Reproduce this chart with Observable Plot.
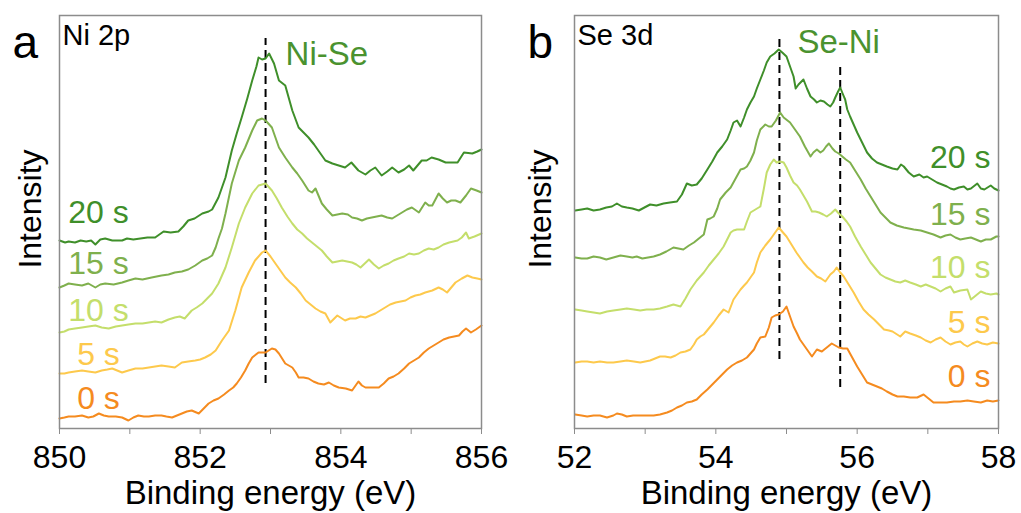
<!DOCTYPE html>
<html>
<head>
<meta charset="utf-8">
<script src="https://cdn.jsdelivr.net/npm/d3@7"></script>
<script src="https://cdn.jsdelivr.net/npm/@observablehq/plot@0.6"></script>
<style>
  html, body { margin: 0; padding: 0; background: #fff; }
  #wrap { display: flex; flex-direction: row; width: 1021px; height: 513px; }
  svg { font-family: "Liberation Sans", Arial, sans-serif; }
</style>
</head>
<body>
<div id="wrap"></div>
<script>
// ---------- DATA ----------
const seriesNames = ["0 s", "5 s", "10 s", "15 s", "20 s"];
const seriesColors = ["#f58b1f", "#fdc94c", "#c4de6b", "#7fb04d", "#3f8f2a"];

// Panel a: Ni 2p (binding energy eV, intensity a.u.)
const ni20 = [[850.00,188],[850.08,186],[850.13,187],[850.22,186],[850.30,188],[850.38,187],[850.45,188],[850.51,184],[850.58,189],[850.65,190],[850.75,188],[850.89,188],[850.96,190],[851.05,189],[851.15,190],[851.25,191],[851.36,191],[851.42,194],[851.48,197],[851.58,196],[851.69,197],[851.76,202],[851.83,208],[851.92,210],[852.03,215],[852.12,217],[852.17,219],[852.26,231],[852.36,251],[852.45,278],[852.52,295],[852.59,311],[852.67,330],[852.74,348],[852.80,362],[852.83,371],[852.88,369],[852.93,370],[852.98,375],[853.05,365],[853.12,348],[853.21,343],[853.31,318],[853.40,301],[853.47,296],[853.54,291],[853.62,284],[853.68,278],[853.78,268],[853.88,265],[853.97,263],[854.06,261],[854.15,266],[854.25,258],[854.35,254],[854.42,258],[854.49,261],[854.58,253],[854.66,257],[854.73,261],[854.82,256],[854.90,259],[854.97,263],[855.03,258],[855.15,268],[855.22,268],[855.29,271],[855.39,269],[855.49,266],[855.58,266],[855.66,266],[855.75,276],[855.87,275],[855.94,277],[856.00,279]];
const ni15 = [[850.00,141],[850.07,143],[850.13,145],[850.22,144],[850.32,143],[850.41,145],[850.51,141],[850.58,144],[850.65,145],[850.77,144],[850.89,146],[850.98,148],[851.08,150],[851.18,149],[851.31,151],[851.38,152],[851.45,153],[851.55,154],[851.64,156],[851.74,157],[851.83,159],[851.93,163],[852.03,168],[852.10,170],[852.17,173],[852.22,181],[852.26,190],[852.31,200],[852.36,215],[852.45,245],[852.55,268],[852.64,281],[852.74,298],[852.81,308],[852.88,310],[852.93,308],[853.02,301],[853.12,281],[853.21,271],[853.31,261],[853.38,255],[853.45,248],[853.54,238],[853.59,236],[853.64,240],[853.73,225],[853.80,219],[853.88,213],[853.95,214],[854.02,215],[854.10,214],[854.16,211],[854.23,210],[854.30,208],[854.37,210],[854.44,211],[854.51,212],[854.58,213],[854.66,211],[854.73,210],[854.80,213],[854.87,216],[854.94,219],[855.01,221],[855.11,216],[855.20,226],[855.25,223],[855.30,223],[855.39,235],[855.45,230],[855.51,226],[855.57,228],[855.63,228],[855.70,226],[855.78,233],[855.85,240],[855.93,238],[856.00,236]];
const ni10 = [[850.00,96],[850.07,97],[850.13,99],[850.22,100],[850.32,101],[850.41,102],[850.51,103],[850.60,101],[850.70,100],[850.80,102],[850.89,103],[850.98,104],[851.08,105],[851.18,105],[851.27,106],[851.36,107],[851.45,106],[851.55,109],[851.64,111],[851.71,112],[851.78,110],[851.88,118],[851.95,121],[852.03,125],[852.10,130],[852.17,135],[852.26,145],[852.36,161],[852.45,181],[852.55,205],[852.64,221],[852.74,235],[852.83,243],[852.93,245],[853.02,238],[853.09,230],[853.16,221],[853.24,212],[853.31,205],[853.38,199],[853.45,195],[853.52,190],[853.59,186],[853.66,182],[853.73,178],[853.80,172],[853.88,166],[853.95,167],[854.02,168],[854.09,167],[854.16,166],[854.22,164],[854.28,161],[854.34,165],[854.40,169],[854.47,164],[854.54,160],[854.61,163],[854.68,165],[854.75,168],[854.82,170],[854.90,172],[854.97,175],[855.04,174],[855.11,175],[855.18,178],[855.25,180],[855.32,179],[855.39,181],[855.46,184],[855.54,186],[855.60,187],[855.66,188],[855.72,191],[855.78,196],[855.82,190],[855.90,192],[856.00,195]];
const ni5 = [[850.00,55],[850.07,55],[850.13,56],[850.22,57],[850.32,58],[850.41,57],[850.51,56],[850.60,58],[850.68,59],[850.75,60],[850.82,58],[850.89,56],[850.98,58],[851.08,60],[851.18,60],[851.27,61],[851.36,62],[851.45,63],[851.55,62],[851.64,61],[851.74,66],[851.83,67],[851.93,68],[852.00,69],[852.07,71],[852.15,74],[852.22,78],[852.31,88],[852.41,98],[852.50,118],[852.59,141],[852.69,156],[852.78,168],[852.88,176],[852.93,178],[853.00,172],[853.07,165],[853.14,158],[853.21,151],[853.28,146],[853.36,141],[853.43,135],[853.50,128],[853.57,124],[853.64,120],[853.71,117],[853.78,115],[853.85,106],[853.95,113],[854.06,108],[854.13,110],[854.21,110],[854.28,112],[854.35,111],[854.42,113],[854.49,115],[854.56,118],[854.63,121],[854.70,124],[854.78,126],[854.85,127],[854.92,128],[854.99,131],[855.06,133],[855.13,134],[855.20,136],[855.30,138],[855.39,141],[855.45,139],[855.51,136],[855.57,141],[855.63,146],[855.72,150],[855.80,153],[855.87,151],[855.94,150],[856.00,149]];
const ni0 = [[850.00,10],[850.07,11],[850.13,12],[850.22,12],[850.32,13],[850.41,11],[850.48,12],[850.56,15],[850.63,13],[850.70,12],[850.80,12],[850.89,11],[850.98,8],[851.05,11],[851.12,13],[851.20,12],[851.27,12],[851.36,13],[851.45,13],[851.52,12],[851.60,11],[851.67,13],[851.74,15],[851.81,17],[851.88,18],[851.98,15],[852.05,20],[852.12,25],[852.19,28],[852.26,30],[852.34,34],[852.41,38],[852.47,41],[852.52,45],[852.58,51],[852.64,58],[852.69,65],[852.74,71],[852.83,76],[852.93,76],[853.02,80],[853.07,79],[853.12,75],[853.21,65],[853.26,63],[853.31,61],[853.36,56],[853.40,51],[853.47,51],[853.54,50],[853.61,47],[853.68,45],[853.76,44],[853.83,46],[853.90,43],[853.97,41],[854.07,40],[854.16,38],[854.25,47],[854.30,43],[854.35,41],[854.45,41],[854.54,41],[854.61,45],[854.68,50],[854.75,52],[854.82,55],[854.90,60],[854.97,65],[855.04,68],[855.11,71],[855.18,76],[855.25,80],[855.32,83],[855.39,86],[855.46,89],[855.54,91],[855.61,92],[855.68,93],[855.73,97],[855.78,100],[855.85,96],[855.92,99],[856.00,103]];

// Panel b: Se 3d
const se20 = [[52.01,218],[52.10,219],[52.18,220],[52.27,218],[52.36,219],[52.45,221],[52.53,222],[52.60,225],[52.67,222],[52.74,221],[52.82,220],[52.91,218],[52.99,221],[53.07,224],[53.16,223],[53.26,225],[53.35,226],[53.45,227],[53.52,234],[53.59,245],[53.66,243],[53.73,244],[53.80,250],[53.88,259],[53.95,267],[54.02,276],[54.09,282],[54.16,289],[54.21,298],[54.25,306],[54.30,308],[54.35,302],[54.40,311],[54.44,319],[54.49,326],[54.54,332],[54.58,340],[54.63,349],[54.68,358],[54.72,366],[54.77,372],[54.83,375],[54.89,379],[54.94,376],[55.00,372],[55.05,362],[55.10,352],[55.13,340],[55.17,344],[55.24,349],[55.29,340],[55.34,332],[55.39,329],[55.43,326],[55.48,328],[55.53,327],[55.58,324],[55.62,322],[55.66,326],[55.69,331],[55.73,337],[55.76,341],[55.80,334],[55.83,329],[55.86,319],[55.90,312],[55.95,304],[56.00,296],[56.07,286],[56.14,276],[56.21,270],[56.28,266],[56.35,264],[56.42,262],[56.50,260],[56.57,259],[56.62,264],[56.66,262],[56.73,256],[56.80,252],[56.88,254],[56.94,251],[56.99,252],[57.06,249],[57.13,246],[57.20,244],[57.27,242],[57.32,240],[57.37,239],[57.44,241],[57.51,242],[57.56,239],[57.61,240],[57.70,245],[57.75,240],[57.80,239],[57.89,243],[57.94,240],[58.00,238]];
const se15 = [[52.01,171],[52.10,170],[52.18,170],[52.27,172],[52.36,171],[52.45,169],[52.55,171],[52.65,173],[52.74,172],[52.82,171],[52.88,172],[52.96,170],[53.04,171],[53.12,172],[53.21,174],[53.30,177],[53.40,181],[53.47,180],[53.54,179],[53.62,183],[53.69,186],[53.76,190],[53.83,194],[53.88,209],[53.92,210],[53.97,212],[54.02,220],[54.06,229],[54.14,236],[54.21,241],[54.28,250],[54.35,259],[54.40,260],[54.44,262],[54.49,268],[54.54,276],[54.58,288],[54.63,299],[54.70,304],[54.75,302],[54.79,302],[54.85,308],[54.91,316],[54.96,311],[55.05,306],[55.12,299],[55.19,292],[55.26,282],[55.34,272],[55.38,276],[55.43,279],[55.48,276],[55.52,278],[55.56,282],[55.60,285],[55.65,280],[55.69,277],[55.74,275],[55.79,272],[55.84,269],[55.90,266],[55.97,258],[56.05,249],[56.12,240],[56.19,232],[56.26,224],[56.33,216],[56.40,211],[56.47,206],[56.56,203],[56.66,201],[56.73,200],[56.80,199],[56.90,198],[56.99,196],[57.08,194],[57.18,191],[57.25,193],[57.32,194],[57.39,191],[57.46,189],[57.53,190],[57.61,191],[57.68,189],[57.75,187],[57.82,189],[57.89,189],[57.97,192],[58.00,192]];
const se10 = [[52.01,119],[52.10,118],[52.18,117],[52.27,116],[52.36,115],[52.46,117],[52.55,118],[52.65,119],[52.74,120],[52.84,119],[52.93,118],[53.02,119],[53.12,119],[53.21,120],[53.31,122],[53.40,124],[53.50,122],[53.57,130],[53.64,139],[53.73,148],[53.83,156],[53.90,163],[53.97,169],[54.04,175],[54.11,182],[54.16,189],[54.21,196],[54.25,198],[54.30,199],[54.35,199],[54.40,199],[54.44,207],[54.49,216],[54.56,219],[54.63,222],[54.68,240],[54.72,256],[54.77,264],[54.82,269],[54.86,266],[54.91,267],[54.96,266],[55.00,261],[55.05,253],[55.10,246],[55.15,243],[55.19,239],[55.24,233],[55.29,227],[55.36,217],[55.41,217],[55.46,216],[55.52,214],[55.57,212],[55.63,215],[55.69,219],[55.74,215],[55.79,212],[55.85,207],[55.90,202],[55.97,192],[56.05,182],[56.12,174],[56.19,166],[56.26,160],[56.33,154],[56.40,151],[56.47,149],[56.54,147],[56.61,146],[56.68,148],[56.75,146],[56.83,144],[56.90,142],[56.97,144],[57.04,142],[57.11,140],[57.18,137],[57.25,140],[57.32,142],[57.37,136],[57.46,138],[57.56,139],[57.61,129],[57.68,133],[57.75,137],[57.82,135],[57.89,134],[57.97,135],[58.00,134]];
const se5 = [[52.01,66],[52.10,67],[52.18,67],[52.27,66],[52.36,67],[52.46,66],[52.55,66],[52.65,67],[52.74,68],[52.84,67],[52.93,66],[53.00,67],[53.07,68],[53.14,70],[53.21,72],[53.28,72],[53.36,71],[53.43,73],[53.50,76],[53.57,77],[53.64,79],[53.69,84],[53.73,89],[53.78,92],[53.83,94],[53.90,100],[53.97,106],[54.04,113],[54.11,119],[54.18,116],[54.25,129],[54.30,134],[54.35,139],[54.40,143],[54.44,146],[54.49,151],[54.54,156],[54.58,166],[54.63,176],[54.70,183],[54.77,189],[54.83,195],[54.89,201],[54.95,196],[55.00,192],[55.07,184],[55.14,176],[55.19,171],[55.24,166],[55.30,161],[55.36,157],[55.43,152],[55.49,150],[55.55,147],[55.62,154],[55.67,157],[55.71,161],[55.76,156],[55.81,152],[55.88,144],[55.95,136],[56.02,127],[56.09,119],[56.16,114],[56.24,109],[56.31,104],[56.38,99],[56.45,98],[56.50,97],[56.61,92],[56.68,97],[56.75,95],[56.83,93],[56.90,91],[56.97,88],[57.04,86],[57.11,89],[57.18,91],[57.25,87],[57.32,84],[57.39,86],[57.46,87],[57.51,84],[57.56,82],[57.63,85],[57.70,87],[57.77,85],[57.84,84],[57.92,86],[58.00,85]];
const se0 = [[52.01,14],[52.10,13],[52.18,12],[52.27,13],[52.36,13],[52.46,11],[52.55,13],[52.60,15],[52.67,14],[52.74,12],[52.83,13],[52.93,13],[53.02,13],[53.12,13],[53.21,14],[53.31,16],[53.38,18],[53.45,21],[53.52,23],[53.59,26],[53.66,27],[53.73,29],[53.80,34],[53.88,39],[53.95,44],[54.02,49],[54.09,54],[54.16,59],[54.23,63],[54.30,66],[54.37,68],[54.44,71],[54.49,75],[54.54,79],[54.58,85],[54.63,91],[54.70,92],[54.75,101],[54.79,111],[54.84,113],[54.89,114],[54.95,117],[55.00,122],[55.05,112],[55.10,102],[55.15,95],[55.19,89],[55.24,84],[55.29,79],[55.36,72],[55.43,79],[55.50,77],[55.57,81],[55.64,85],[55.69,83],[55.74,81],[55.80,80],[55.86,80],[55.93,71],[56.00,62],[56.07,54],[56.14,46],[56.21,44],[56.28,42],[56.35,40],[56.42,37],[56.50,34],[56.57,32],[56.66,32],[56.75,31],[56.85,31],[56.94,34],[57.01,30],[57.08,26],[57.18,26],[57.27,26],[57.37,27],[57.46,27],[57.56,28],[57.65,27],[57.75,26],[57.84,28],[57.92,27],[58.00,28]];

// Peak positions (eV) and extent of the dashed guide lines (a.u.)
const niPeaks = [{E: 852.93, lo: 45, hi: 390}];
const sePeaks = [{E: 54.90, lo: 69, hi: 391}, {E: 55.76, lo: 41, hi: 362}];

const niTicks = [850, 851, 852, 853, 854, 855, 856];
const seTicks = [52, 53, 54, 55, 56, 57, 58];

// ---------- BUILD ----------
function rows(list) {
  const out = [];
  list.forEach((arr, i) => arr.forEach(([E, I]) => out.push({E, I, series: seriesNames[i]})));
  return out;
}
const niRows = rows([ni0, ni5, ni10, ni15, ni20]);
const seRows = rows([se0, se5, se10, se15, se20]);

const FONT = "Liberation Sans, Arial, sans-serif";
const frameColor = "#8c8c8c";

function panel({data, domain, ticks, peaks, width, ml, mr, letter, core, bond, bondDx, bondDy, labelSide, labelDy, ylabDx}) {
  const labelMarks = seriesNames.map((name, i) => {
    const sub = data.filter(d => d.series === name);
    const sel = labelSide === "left" ? Plot.selectFirst : Plot.selectLast;
    return Plot.text(sub, sel({
      x: "E", y: "I", text: () => name,
      fill: seriesColors[i], fontSize: 32,
      textAnchor: labelSide === "left" ? "middle" : "end",
      lineAnchor: "middle",
      dx: labelSide === "left" ? 39 : -8,
      dy: -labelDy[i]
    }));
  });
  return Plot.plot({
    width, height: 513,
    marginLeft: ml, marginRight: mr, marginTop: 15, marginBottom: 85,
    style: {fontFamily: FONT, background: "white", overflow: "visible"},
    x: {domain, axis: null},
    y: {domain: [0, 413], axis: null},
    color: {domain: seriesNames, range: seriesColors},
    marks: [
      Plot.axisX({ticks, tickSize: 6, tickPadding: 11, fontSize: 32, stroke: frameColor, fill: "black",
        tickFormat: d => (d % 2 === 0 ? d : ""), label: null}),
      Plot.ruleX(peaks, {x: "E", y1: "lo", y2: "hi", stroke: "black", strokeWidth: 2, strokeDasharray: "8,5"}),
      Plot.line(data, {x: "E", y: "I", z: "series", stroke: "series", strokeWidth: 2}),
      ...labelMarks,
      Plot.frame({stroke: frameColor, strokeWidth: 1.5}),
      Plot.text([bond], {x: () => peaks[0].E, frameAnchor: "top", dx: bondDx, dy: bondDy, text: d => d,
        textAnchor: "start", lineAnchor: "middle", fontSize: 33, fill: "#4a922f"}),
      Plot.text([core], {frameAnchor: "top-left", dx: 3, dy: 29, text: d => d, textAnchor: "start",
        lineAnchor: "bottom", fontSize: 29, fill: "black"}),
      Plot.text([letter], {frameAnchor: "top-left", dx: -47, dy: 42, text: d => d, textAnchor: "start",
        lineAnchor: "bottom", fontSize: 46, fill: "black"}),
      Plot.text(["Intensity"], {frameAnchor: "left", rotate: -90, dx: ylabDx, dy: -13, text: d => d,
        fontSize: 32, fill: "black", textAnchor: "middle", lineAnchor: "middle"}),
      Plot.text(["Binding energy (eV)"], {frameAnchor: "bottom", dy: 75, text: d => d,
        fontSize: 33, fill: "black", textAnchor: "middle", lineAnchor: "bottom"})
    ]
  });
}

const wrap = document.getElementById("wrap");
wrap.append(panel({
  data: niRows, domain: [850, 856], ticks: niTicks, peaks: niPeaks,
  width: 510, ml: 59, mr: 29, letter: "a", core: "Ni 2p", bond: "Ni-Se",
  bondDx: 20, bondDy: 39, labelSide: "left", labelDy: [20, 19, 22, 24, 28], ylabDx: -29
}));
wrap.append(panel({
  data: seRows, domain: [52, 58], ticks: seTicks, peaks: sePeaks,
  width: 511, ml: 64, mr: 23, letter: "b", core: "Se 3d", bond: "Se-Ni",
  bondDx: 18, bondDy: 27, labelSide: "right", labelDy: [24, 21, 27, 22, 33], ylabDx: -34
}));
</script>
</body>
</html>
